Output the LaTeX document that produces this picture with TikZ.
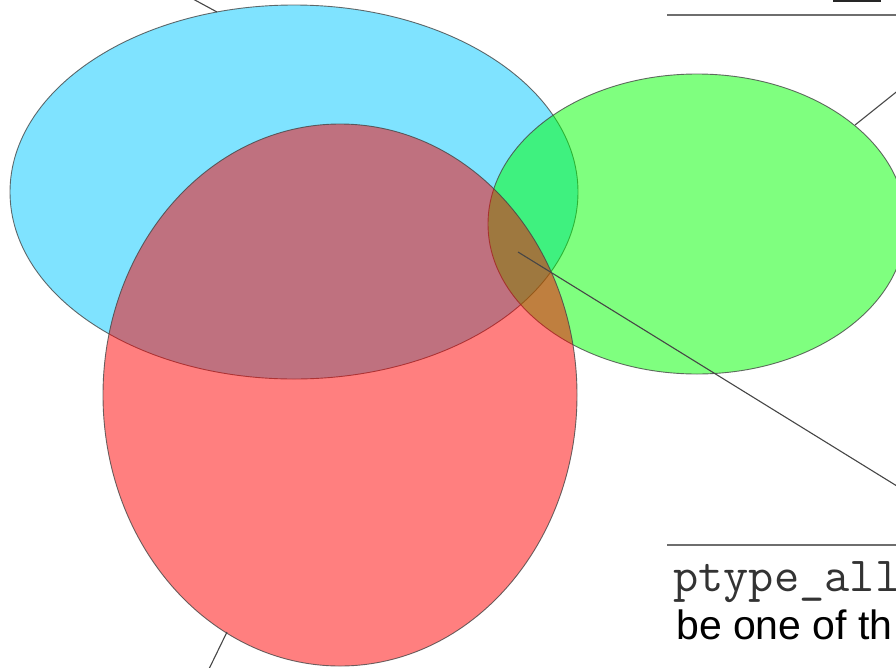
\documentclass[tikz,border=0pt]{standalone}
\usepackage{fontspec}
\setmainfont{Liberation Sans}
\usetikzlibrary{shapes.geometric}
\definecolor{cblue}{RGB}{0,200,255}
\definecolor{cgreen}{RGB}{0,255,0}
\definecolor{cred}{RGB}{255,0,0}
\definecolor{edge}{RGB}{70,70,70}
\definecolor{rule}{RGB}{110,110,110}
\tikzset{
  setshape/.style={ellipse, inner sep=0pt, outer sep=0pt, draw=edge, line width=0.9pt, fill opacity=0.5, draw opacity=0.8},
  leader/.style={draw=edge, line width=1.1pt},
  hrule/.style={draw=rule, line width=1.7pt},
}
\begin{document}
\begin{tikzpicture}[x=1pt,y=-1pt]
\useasboundingbox (0,0) rectangle (896,667);
\clip (0,0) rectangle (896,667);
% sets
\node[setshape, fill=cblue, minimum width=568pt, minimum height=374pt] (blue) at (294,192) {};
\node[setshape, fill=cgreen, minimum width=418pt, minimum height=300pt] (green) at (697,224) {};
\node[setshape, fill=cred, minimum width=474pt, minimum height=542pt] (red) at (340,395) {};
% leader lines
\coordinate (b1) at (217,12);
\coordinate (b2) at (193,-1);
\draw[leader] (b1) -- (b2);
\coordinate (r1) at (227,632);
\coordinate (r2) at (208,671);
\draw[leader] (r1) -- (r2);
\coordinate (g1) at (855,125);
\coordinate (g2) at (900,89);
\draw[leader] (g1) -- (g2);
\coordinate (c1) at (518,252);
\coordinate (c2) at (905,491);
\draw[leader] (c1) -- (c2);
% rules
\coordinate (t1) at (667,15);
\coordinate (t2) at (900,15);
\draw[hrule] (t1) -- (t2);
\coordinate (u1) at (667,545);
\coordinate (u2) at (900,545);
\draw[hrule] (u1) -- (u2);
\node[fill=black!85, inner sep=0pt, minimum width=48pt, minimum height=2.5pt, anchor=north west] (ubar) at (833,-0.5) {};
% texts
\node[anchor=base west, inner sep=0pt, font=\ttfamily\fontsize{49}{54}\selectfont, text=black!80] (t) at (673,591) {ptype\_all};
\node[anchor=base west, inner sep=0pt, font=\fontsize{41}{48}\selectfont] (d) at (676,639) {be one of th};
\end{tikzpicture}
\end{document}
